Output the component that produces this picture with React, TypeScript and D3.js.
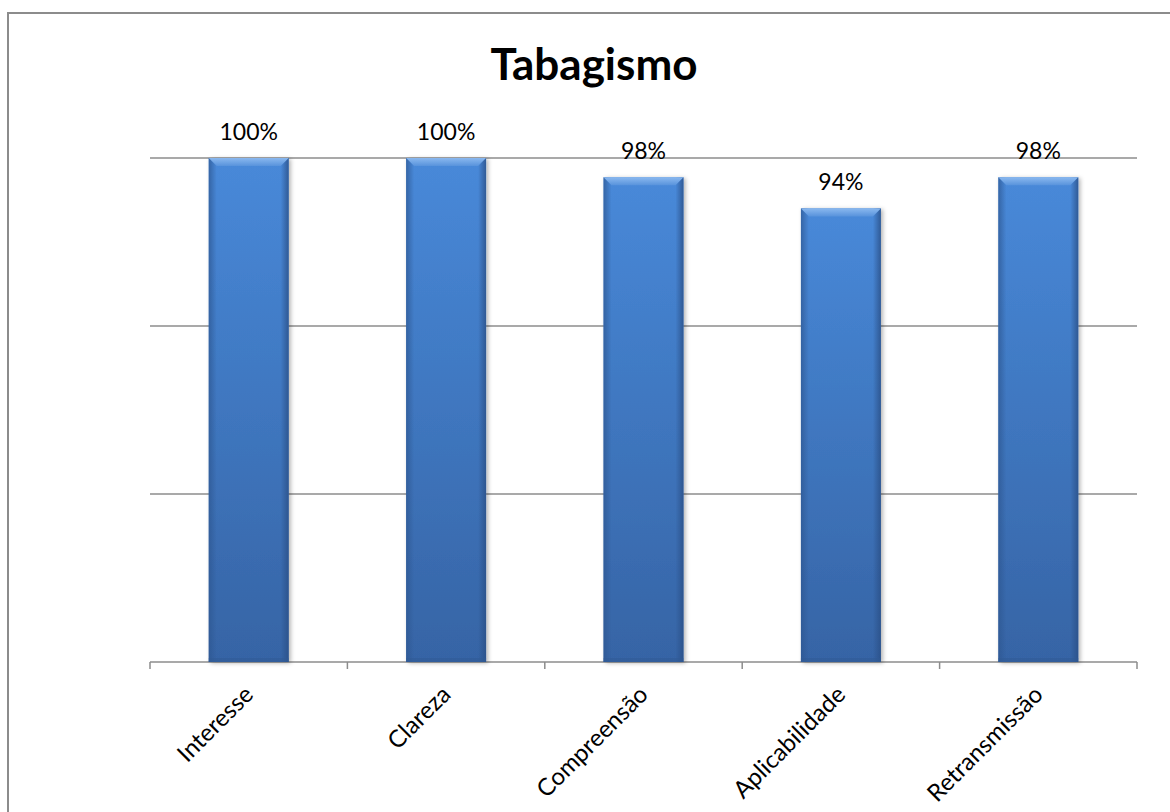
import React from 'react';
import * as d3 from 'd3';

// chart values
const categories: string[] = ['Interesse', 'Clareza', 'Compreensão', 'Aplicabilidade', 'Retransmissão'];
const values: number[] = [1.0, 1.0, 0.977, 0.94, 0.977];
const gridTicks: number[] = [0.4, 0.6, 0.8, 1.0];
const title = 'Tabagismo';

const W = 1170;
const H = 812;
const plot = { left: 150, right: 1137, top: 158, bottom: 662 };

const App = () => {
  const x = d3.scaleBand<string>()
    .domain(categories)
    .range([plot.left, plot.right])
    .paddingInner(0.595)
    .paddingOuter(0.2975);
  const y = d3.scaleLinear().domain([0.4, 1.0]).range([plot.bottom, plot.top]);
  const bw = x.bandwidth();
  const step = x.step();
  const fmt = d3.format('.0%');
  const font = 'Lato, "Open Sans", sans-serif';

  return (
    <svg width={W} height={H} style={{ position: 'absolute', left: 0, top: 0, background: '#fff' }}>
      <defs>
        <linearGradient id="barFill" x1="0" y1="0" x2="0" y2="1">
          <stop offset="0%" stopColor="#4889d9" />
          <stop offset="100%" stopColor="#3664a5" />
        </linearGradient>
        <linearGradient id="sideL" x1="0" y1="0" x2="1" y2="0">
          <stop offset="0%" stopColor="#2d5690" stopOpacity="0.7" />
          <stop offset="100%" stopColor="#2d5690" stopOpacity="0" />
        </linearGradient>
        <linearGradient id="sideR" x1="1" y1="0" x2="0" y2="0">
          <stop offset="0%" stopColor="#2a4f86" stopOpacity="0.8" />
          <stop offset="100%" stopColor="#2a4f86" stopOpacity="0" />
        </linearGradient>
        <linearGradient id="bevelTop" x1="0" y1="0" x2="0" y2="1">
          <stop offset="0%" stopColor="#8ab8ef" />
          <stop offset="100%" stopColor="#5893dc" />
        </linearGradient>
        <filter id="shadow" x="-20%" y="-5%" width="140%" height="110%">
          <feDropShadow dx="2" dy="1" stdDeviation="2" floodColor="#000" floodOpacity="0.3" />
        </filter>
      </defs>

      {/* outer chart border, runs off the page on right and bottom */}
      <rect x={8} y={13} width={1200} height={850} fill="none" stroke="#8c8c8c" strokeWidth={2} />

      <text x={594} y={80} textAnchor="middle" fontFamily={font} fontWeight="bold" fontSize={44} fill="#000">
        {title}
      </text>

      {/* gridlines */}
      {gridTicks.map(t => (
        <line key={t} x1={plot.left} x2={plot.right} y1={y(t)} y2={y(t)} stroke="#8c8c8c" strokeWidth={1.5} />
      ))}

      {/* category ticks */}
      {d3.range(categories.length + 1).map(i => {
        const tx = plot.left + i * step;
        return <line key={i} x1={tx} x2={tx} y1={plot.bottom} y2={plot.bottom + 7} stroke="#8c8c8c" strokeWidth={1.5} />;
      })}

      {/* bars */}
      {categories.map((c, i) => {
        const bx = x(c) as number;
        const by = y(values[i]);
        const bh = plot.bottom - by;
        const bev = 8;
        return (
          <g key={c}>
            <rect x={bx} y={by} width={bw} height={bh} fill="url(#barFill)" filter="url(#shadow)" />
            <rect x={bx} y={by} width={bev} height={bh} fill="url(#sideL)" />
            <rect x={bx + bw - bev} y={by} width={bev} height={bh} fill="url(#sideR)" />
            <path
              d={`M${bx},${by} L${bx + bw},${by} L${bx + bw - bev},${by + bev} L${bx + bev},${by + bev} Z`}
              fill="url(#bevelTop)"
            />
            <rect x={bx} y={plot.bottom - 4} width={bw} height={4} fill="#2f5a94" opacity={0.5} />
            <text x={bx + bw / 2} y={by - 18} textAnchor="middle" fontFamily={font} fontSize={23} fill="#000">
              {fmt(values[i])}
            </text>
          </g>
        );
      })}

      {/* category labels */}
      {categories.map(c => {
        const cx = (x(c) as number) + bw / 2 + 6;
        const cy = plot.bottom + 34;
        return (
          <text
            key={c}
            x={cx}
            y={cy}
            textAnchor="end"
            fontFamily={font}
            fontSize={24}
            fill="#000"
            transform={`rotate(-45, ${cx}, ${cy})`}
          >
            {c}
          </text>
        );
      })}
    </svg>
  );
};

export default App;
